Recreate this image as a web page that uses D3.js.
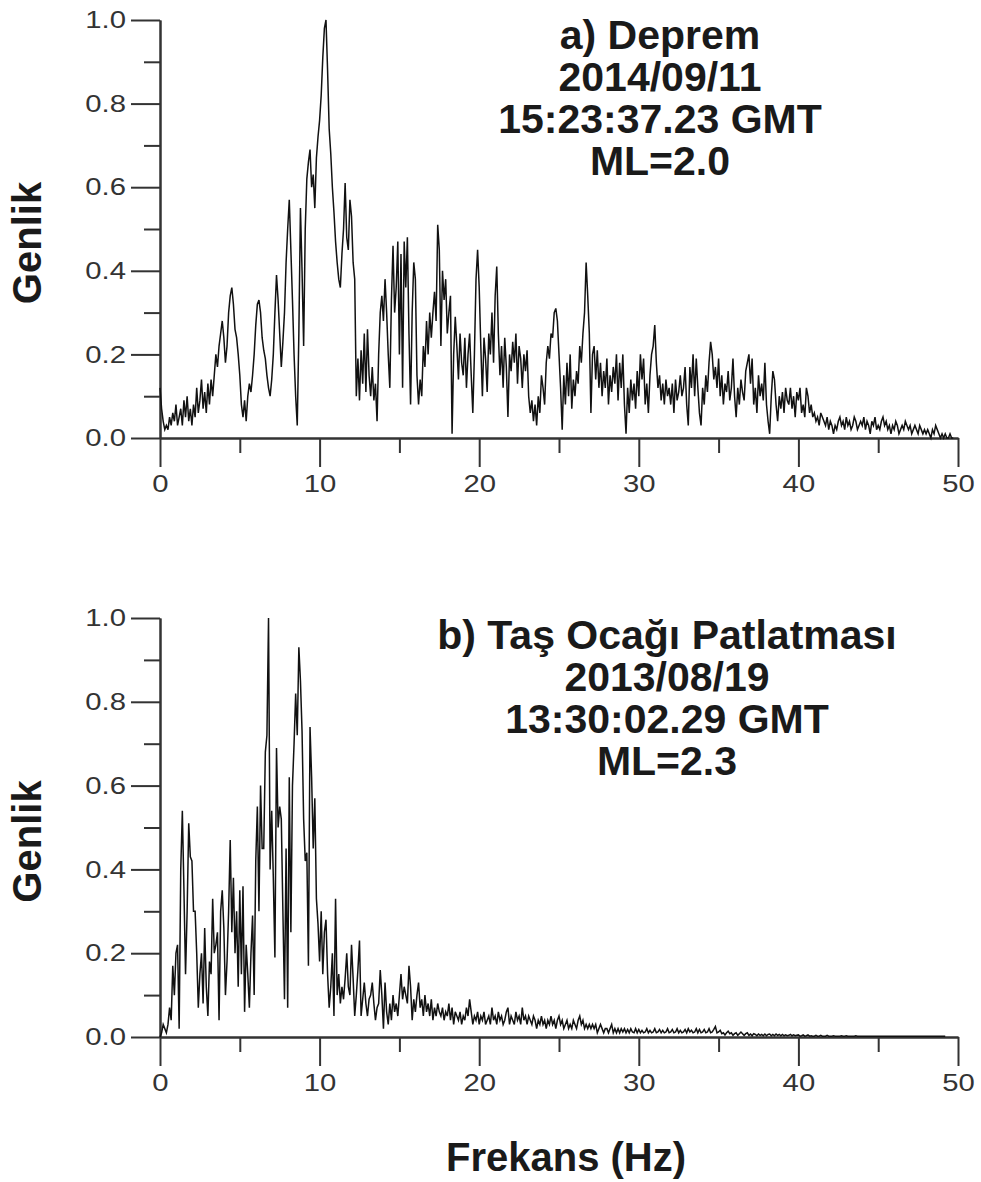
<!DOCTYPE html>
<html>
<head>
<meta charset="utf-8">
<script src="https://cdn.jsdelivr.net/npm/d3@7"></script>
<style>
  html, body { margin: 0; padding: 0; background: #fff; }
  svg { display: block; }
</style>
</head>
<body>
<svg id="chart" width="981" height="1182"></svg>
<script>
// ---------------- data ----------------
const freqStep = 0.1; // Hz between samples
const xTicksMajor = [0, 10, 20, 30, 40, 50];
const xTicksMinor = [5, 15, 25, 35, 45];
const yTicksMajor = [0, 0.2, 0.4, 0.6, 0.8, 1.0];
const yTicksMinor = [0.1, 0.3, 0.5, 0.7, 0.9];
const xTickLabels = ["0", "10", "20", "30", "40", "50"];
const yTickLabels = ["0.0", "0.2", "0.4", "0.6", "0.8", "1.0"];

const titleA = ["a) Deprem", "2014/09/11", "15:23:37.23 GMT", "ML=2.0"];
const titleB = ["b) Taş Ocağı Patlatması", "2013/08/19", "13:30:02.29 GMT", "ML=2.3"];
const yLabel = "Genlik";
const xLabel = "Frekans (Hz)";

// a) earthquake spectrum, 0.0 .. 49.7 Hz
const ampA = [
 .12,.07,.04,.02,.03,.02,.05,.03,.06,.04,
 .08,.03,.05,.07,.03,.09,.05,.10,.04,.07,
 .03,.08,.05,.12,.06,.09,.14,.07,.11,.06,
 .13,.08,.14,.10,.15,.20,.17,.22,.25,.28,
 .24,.18,.22,.30,.34,.36,.32,.26,.24,.20,
 .15,.08,.05,.09,.04,.10,.13,.11,.15,.20,
 .27,.32,.33,.30,.24,.21,.19,.15,.12,.10,
 .14,.20,.30,.39,.33,.25,.17,.23,.30,.42,
 .50,.57,.45,.33,.20,.10,.03,.25,.55,.40,
 .22,.50,.62,.66,.69,.60,.63,.55,.67,.72,
 .76,.82,.91,.98,1.0,.88,.74,.68,.60,.54,
 .47,.42,.38,.36,.44,.50,.61,.48,.45,.57,
 .53,.42,.38,.10,.19,.09,.21,.13,.25,.11,
 .26,.15,.10,.17,.09,.13,.04,.20,.30,.34,
 .28,.38,.30,.20,.12,.33,.46,.30,.36,.47,
 .20,.44,.12,.47,.36,.48,.25,.08,.30,.42,
 .38,.15,.08,.14,.10,.22,.17,.28,.20,.30,
 .24,.30,.35,.28,.51,.45,.22,.40,.33,.38,
 .25,.30,.34,.01,.20,.29,.22,.14,.25,.18,
 .15,.24,.12,.20,.25,.15,.06,.20,.38,.45,
 .36,.22,.10,.24,.19,.11,.25,.20,.30,.18,
 .34,.41,.25,.15,.22,.12,.24,.17,.05,.20,
 .16,.23,.18,.25,.13,.22,.19,.12,.20,.16,
 .21,.10,.06,.09,.04,.08,.03,.10,.06,.15,
 .12,.08,.18,.22,.19,.25,.24,.30,.31,.28,
 .20,.12,.02,.15,.08,.18,.10,.20,.07,.14,
 .10,.16,.13,.22,.18,.25,.30,.42,.34,.25,
 .06,.20,.22,.14,.21,.12,.18,.10,.16,.12,
 .19,.08,.15,.11,.17,.13,.20,.09,.18,.12,
 .20,.08,.01,.12,.06,.14,.09,.13,.07,.16,
 .10,.20,.14,.19,.08,.13,.06,.15,.20,.22,
 .27,.18,.12,.15,.09,.13,.08,.14,.10,.12,
 .08,.13,.06,.14,.09,.11,.15,.10,.12,.17,
 .08,.03,.17,.12,.20,.10,.19,.12,.06,.03,
 .12,.08,.15,.11,.18,.23,.20,.14,.17,.12,
 .19,.10,.15,.08,.13,.11,.16,.09,.12,.19,
 .10,.05,.12,.08,.14,.11,.09,.16,.18,.20,
 .13,.19,.08,.12,.06,.15,.10,.13,.09,.18,
 .08,.04,.01,.10,.16,.14,.08,.04,.10,.07,
 .11,.06,.12,.09,.08,.12,.07,.10,.05,.11,
 .09,.12,.06,.08,.05,.12,.10,.06,.08,.05,
 .06,.04,.05,.03,.06,.05,.04,.03,.05,.02,
 .04,.03,.01,.03,.02,.04,.05,.03,.04,.02,
 .05,.03,.04,.02,.03,.05,.04,.02,.03,.04,
 .03,.05,.02,.04,.03,.01,.04,.03,.05,.02,
 .03,.02,.04,.05,.03,.04,.02,.03,.01,.03,
 .02,.04,.03,.01,.02,.03,.02,.04,.03,.02,
 .03,.01,.02,.03,.02,.01,.03,.02,.01,.02,
 .01,.02,.01,.00,.02,.01,.03,.02,.01,.00,
 .01,.00,.01,.00,.00,.01,.00,.00
];

// b) quarry blast spectrum, 0.0 .. 49.2 Hz
const ampB = [
 .00,.01,.03,.02,.01,.03,.07,.04,.17,.10,
 .20,.22,.02,.40,.54,.35,.15,.30,.51,.43,
 .42,.30,.30,.20,.07,.15,.20,.08,.26,.12,
 .05,.18,.15,.33,.20,.22,.25,.04,.30,.35,
 .26,.10,.18,.30,.47,.25,.38,.20,.30,.12,
 .35,.15,.36,.06,.22,.15,.07,.20,.29,.10,
 .42,.55,.30,.60,.45,.45,.68,.72,1.0,.40,
 .54,.38,.19,.69,.50,.55,.52,.30,.09,.45,
 .07,.62,.25,.60,.70,.82,.72,.93,.85,.73,
 .52,.42,.44,.17,.74,.62,.45,.57,.33,.27,
 .18,.30,.15,.25,.28,.15,.07,.12,.20,.05,
 .33,.10,.15,.08,.12,.09,.14,.20,.12,.10,
 .22,.14,.05,.10,.16,.23,.05,.09,.13,.08,
 .05,.09,.10,.13,.08,.04,.07,.08,.16,.10,
 .02,.13,.06,.03,.08,.04,.10,.06,.08,.05,
 .10,.15,.09,.12,.10,.08,.17,.12,.04,.09,
 .06,.10,.13,.07,.09,.05,.10,.06,.08,.05,
 .09,.04,.07,.05,.08,.06,.05,.07,.04,.06,
 .05,.08,.04,.07,.03,.06,.05,.04,.06,.03,
 .05,.04,.07,.05,.09,.06,.03,.05,.04,.06,
 .03,.05,.04,.06,.03,.04,.05,.03,.07,.04,
 .05,.03,.06,.04,.05,.03,.04,.06,.07,.03,
 .05,.04,.03,.06,.04,.05,.03,.07,.04,.05,
 .03,.05,.04,.03,.05,.04,.02,.04,.03,.05,
 .03,.04,.02,.04,.03,.05,.03,.04,.02,.04,
 .05,.03,.04,.02,.03,.04,.02,.03,.02,.04,
 .03,.02,.04,.05,.03,.04,.02,.03,.02,.03,
 .02,.03,.02,.03,.01,.02,.03,.02,.01,.02,
 .02,.01,.02,.03,.01,.02,.01,.02,.01,.02,
 .012,.02,.01,.018,.01,.02,.012,.01,.02,.01,
 .018,.01,.016,.01,.012,.02,.01,.016,.01,.012,
 .02,.01,.012,.018,.01,.016,.01,.012,.02,.01,
 .012,.018,.01,.012,.02,.01,.016,.01,.012,.018,
 .01,.02,.012,.016,.01,.012,.02,.01,.018,.01,
 .012,.018,.01,.012,.02,.01,.012,.018,.025,.01,
 .012,.016,.008,.01,.005,.01,.014,.008,.01,.004,
 .008,.01,.004,.008,.012,.008,.004,.008,.01,.004,
 .007,.003,.008,.006,.003,.007,.004,.006,.003,.007,
 .003,.006,.007,.003,.006,.003,.007,.004,.006,.003,
 .006,.003,.005,.003,.004,.006,.003,.005,.003,.004,
 .005,.002,.003,.005,.002,.003,.005,.002,.003,.002,
 .002,.004,.002,.002,.004,.002,.002,.002,.004,.002,
 .002,.002,.003,.002,.002,.002,.002,.003,.002,.002,
 .003,.002,.002,.002,.002,.002,.003,.002,.002,.002,
 .002,.002,.002,.002,.002,.002,.002,.002,.002,.002,
 .002,.002,.002,.002,.002,.002,.002,.002,.002,.002,
 .002,.002,.002,.002,.002,.002,.002,.002,.002,.002,
 .002,.002,.002,.002,.002,.002,.002,.002,.002,.002,
 .002,.002,.002,.002,.002,.002,.002,.002,.002,.002,
 .002,.002,.002
];

// ---------------- drawing ----------------
const svg = d3.select("#chart");
svg.append("rect").attr("width", 981).attr("height", 1182).attr("fill", "#fff");

const FONT = "'Liberation Sans', Arial, Helvetica, sans-serif";
const AXIS_COLOR = "#333";
const plotLeft = 160, plotRight = 958;
const labelStretch = 1.22; // tick labels in the reference are wide-set

const panels = [
  { data: ampA, top: 20, bottom: 438, title: titleA, titleX: 660, titleY: 49 },
  { data: ampB, top: 618, bottom: 1037, title: titleB, titleX: 667, titleY: 649 }
];

panels.forEach(p => {
  const x = d3.scaleLinear().domain([0, 50]).range([plotLeft, plotRight]);
  const y = d3.scaleLinear().domain([0, 1]).range([p.bottom, p.top]);
  const g = svg.append("g");

  // minor ticks
  const yMinorAxis = d3.axisLeft(y).tickValues(yTicksMinor).tickSize(16).tickSizeOuter(0).tickFormat("");
  g.append("g").attr("transform", `translate(${plotLeft},0)`).call(yMinorAxis);
  const xMinorAxis = d3.axisBottom(x).tickValues(xTicksMinor).tickSize(15).tickSizeOuter(0).tickFormat("");
  g.append("g").attr("transform", `translate(0,${p.bottom})`).call(xMinorAxis);

  // major ticks with labels
  const yAxis = d3.axisLeft(y).tickValues(yTicksMajor).tickSize(29).tickSizeOuter(0).tickPadding(5)
    .tickFormat((d, i) => yTickLabels[i]);
  const gy = g.append("g").attr("transform", `translate(${plotLeft},0)`).call(yAxis);
  const xAxis = d3.axisBottom(x).tickValues(xTicksMajor).tickSize(29).tickSizeOuter(0).tickPadding(8)
    .tickFormat((d, i) => xTickLabels[i]);
  const gx = g.append("g").attr("transform", `translate(0,${p.bottom})`).call(xAxis);

  g.selectAll(".domain, .tick line").attr("stroke", AXIS_COLOR).attr("stroke-width", 2);
  g.selectAll(".tick text").attr("fill", "#333").attr("font-family", FONT).attr("font-size", 24);
  gy.selectAll(".tick text")
    .attr("x", -34 / labelStretch)
    .attr("transform", `scale(${labelStretch},1)`);
  gx.selectAll(".tick text")
    .attr("transform", `scale(${labelStretch},1)`);

  // spectrum line
  const pts = p.data.map((v, i) => ({ f: i * freqStep, v }));
  const line = d3.line().x(d => x(d.f)).y(d => y(d.v));
  g.append("path").datum(pts)
    .attr("d", line)
    .attr("fill", "none")
    .attr("stroke", "#111")
    .attr("stroke-width", 1.5)
    .attr("stroke-linejoin", "miter");

  // title block
  const t = g.append("text")
    .attr("x", p.titleX).attr("y", p.titleY)
    .attr("text-anchor", "middle")
    .style("font-family", FONT).style("font-weight", "bold").style("font-size", "41px")
    .attr("fill", "#1a1a1a");
  p.title.forEach((s, i) => {
    t.append("tspan").attr("x", p.titleX).attr("dy", i === 0 ? 0 : 42).text(s);
  });

  // y label
  const cy = (p.top + p.bottom) / 2 + 14;
  g.append("text")
    .attr("transform", `translate(41,${cy}) rotate(-90)`)
    .attr("text-anchor", "middle")
    .style("font-family", FONT).style("font-weight", "bold").style("font-size", "40px")
    .attr("fill", "#1a1a1a")
    .text(yLabel);
});

svg.append("text")
  .attr("x", 566).attr("y", 1171)
  .attr("text-anchor", "middle")
  .style("font-family", FONT).style("font-weight", "bold").style("font-size", "40px")
  .attr("fill", "#1a1a1a")
  .text(xLabel);
</script>
</body>
</html>
